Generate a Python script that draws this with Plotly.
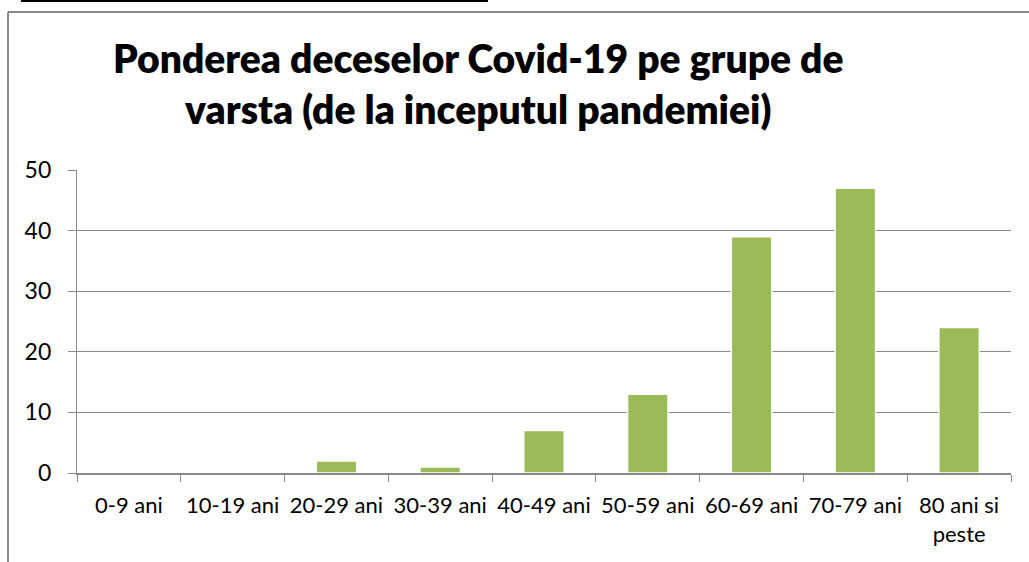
import plotly.graph_objects as go

categories = ["0-9 ani", "10-19 ani", "20-29 ani", "30-39 ani", "40-49 ani",
              "50-59 ani", "60-69 ani", "70-79 ani", "80 ani si<br>peste"]
values = [0, 0, 2, 1, 7, 13, 39, 47, 24]
title_text = "Ponderea deceselor Covid-19 pe grupe de<br>varsta (de la inceputul pandemiei)"

W, H = 1029, 562
L, R, T, B = 77, 18, 170, 89
pw, ph = W - L - R, H - T - B

def px(x):
    return (x - L) / pw

def py(y):
    return (H - B - y) / ph

FONT = "Lato"
GRAY = "#898989"

fig = go.Figure(go.Bar(
    x=categories, y=values,
    marker=dict(color="#9BBB59", line=dict(color="#FFFFFF", width=1.5)),
    width=0.39,
))

fig.update_layout(
    width=W, height=H,
    margin=dict(l=L, r=R, t=T, b=B, autoexpand=False),
    paper_bgcolor="white", plot_bgcolor="white",
    showlegend=False,
    font=dict(family=FONT, color="black", size=22),
    xaxis=dict(
        type="category", showline=True, linecolor=GRAY, linewidth=1.5,
        ticks="outside", tickson="boundaries", ticklen=7, tickcolor=GRAY, tickwidth=1.2,
        showgrid=False, tickfont=dict(family=FONT, size=22, color="black"),
        ticklabelstandoff=12, tickangle=0, automargin=False,
    ),
    yaxis=dict(
        range=[0, 50], dtick=10, showline=True, linecolor=GRAY, linewidth=1.2,
        ticks="outside", ticklen=8, tickcolor=GRAY, tickwidth=1.2,
        showgrid=True, gridcolor=GRAY, gridwidth=1.2, zeroline=False,
        tickfont=dict(family=FONT, size=23, color="black"),
        ticklabelstandoff=12, automargin=False,
    ),
    annotations=[dict(
        text=title_text, xref="paper", yref="paper",
        x=px(478), y=py(84), xanchor="center", yanchor="middle",
        showarrow=False, font=dict(family=FONT, size=39, color="black", weight=800),
        align="center",
    )],
    shapes=[
        dict(type="line", xref="paper", yref="paper", x0=px(8), x1=px(8),
             y0=py(12), y1=py(570), line=dict(color=GRAY, width=2)),
        dict(type="line", xref="paper", yref="paper", x0=px(8), x1=px(1035),
             y0=py(12), y1=py(12), line=dict(color=GRAY, width=2)),
        dict(type="line", xref="paper", yref="paper", x0=px(21), x1=px(488),
             y0=py(1), y1=py(1), line=dict(color="black", width=2)),
    ],
)

fig.write_html("out.html", config={"displayModeBar": False},
               post_script="document.body.style.margin='0px';document.body.style.overflow='hidden';")
